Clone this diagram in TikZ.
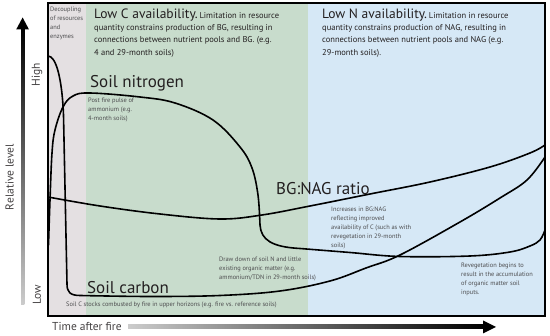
\documentclass[tikz,border=0pt]{standalone}
\usepackage{fontspec}
\setmainfont{PT Sans}
\definecolor{bggray}{HTML}{E4E0E2}
\definecolor{bggreen}{HTML}{C8DCCC}
\definecolor{bgblue}{HTML}{D6E8F6}
\definecolor{txtdark}{HTML}{231F20}
\definecolor{txtgray}{HTML}{4D4D4F}
\begin{document}
\begin{tikzpicture}[x=1pt,y=-1pt,
  big/.style={font=\fontsize{17}{17}\selectfont, text=txtdark, inner sep=0pt, anchor=base west},
  headbig/.style={font=\fontsize{13.5}{13.5}\selectfont, text=txtdark, inner sep=0pt, anchor=base west},
  headsmall/.style={font=\fontsize{8.5}{12}\selectfont, text=txtdark, inner sep=0pt, anchor=base west},
  ann/.style={font=\fontsize{6.4}{9}\selectfont, text=txtgray, inner sep=0pt, anchor=base west},
  axlab/.style={font=\fontsize{11.5}{11.5}\selectfont, text=txtdark!85, inner sep=0pt},
  curve/.style={line width=1.6pt, black, line cap=round, line join=round}]
\useasboundingbox (0,0) rectangle (550,336);
% backgrounds
\fill[bggray] (48,3) rectangle (86,316);
\fill[bggreen] (86,3) rectangle (308,316);
\fill[bgblue] (308,3) rectangle (545,316);
% decoupling + soil carbon
\draw[curve] (48,56) .. controls (56,56) and (62,78) .. (63.5,115)
  -- (67,284) .. controls (67,292) and (70,295.5) .. (80,295.5)
  plot[smooth, tension=0.6] coordinates {(80,295.5) (150,296.5) (220,295.5) (280,291) (330,281) (366,268) (400,255) (460,222) (500,198) (527,180) (545,157)};
% soil nitrogen
\draw[curve] plot[smooth, tension=0.6] coordinates {(48.5,245) (50,200) (52,153) (55,130) (63,107) (73,96) (90,93) (140,97) (175,103) (213,120) (240,147) (252,168) (258,195) (260,225)}
  .. controls (261,240) and (272,247) .. (300,248.5)
  plot[smooth, tension=0.6] coordinates {(300,248.5) (350,252.5) (400,256.5) (470,256) (510,252) (530,246) (540,240) (545,230)};
% BG:NAG
\draw[curve] plot[smooth, tension=0.6] coordinates {(48,197) (100,206) (160,214) (220,219) (262,215) (310,206) (370,194) (430,182) (490,167) (530,153) (545,145)};
% frame
\draw[line width=2.4pt, black] (48,3) rectangle (545,316);
% axes arrows
\shade[top color=black, bottom color=black!20] (21,29) rectangle (24.3,305);
\fill[black] (22.6,17.5) -- (29,29.5) -- (16.2,29.5) -- cycle;
\shade[left color=black!20, right color=black] (128,325) rectangle (484,329);
\fill[black] (496,327) -- (483,320.5) -- (483,333.5) -- cycle;
% axis labels
\node[axlab, rotate=90] (high) at (37,75) {High};
\node[axlab, rotate=90] (rel) at (9.5,177) {Relative level};
\node[axlab, rotate=90] (low) at (37,295) {Low};
\node[axlab, anchor=base west] (time) at (52,331) {Time after fire};
% header texts
\node[ann] (dec1) at (50,12) {Decoupling};
\node[ann] (dec2) at (50,21) {of resources};
\node[ann] (dec3) at (50,30) {and};
\node[ann] (dec4) at (50,39) {enzymes};
\node[headbig] (lowc) at (94,19) {Low C availability.};
\node[headsmall, anchor=base west] (lowc1) at (lowc.base east) {\,Limitation in resource};
\node[headsmall] (lowc2) at (94,30.5) {quantity constrains production of BG, resulting in};
\node[headsmall] (lowc3) at (94,43) {connections between nutrient pools and BG. (e.g.};
\node[headsmall] (lowc4) at (94,55.5) {4 and 29-month soils)};
\node[headbig] (lown) at (322,19) {Low N availability.};
\node[headsmall, anchor=base west] (lown1) at (lown.base east) {\,Limitation in resource};
\node[headsmall] (lown2) at (322,30.5) {quantity constrains production of NAG, resulting in};
\node[headsmall] (lown3) at (322,43) {connections between nutrient pools and NAG (e.g.};
\node[headsmall] (lown4) at (322,55.5) {29-month soils).};
% curve labels
\node[big] (sn) at (90,88) {Soil nitrogen};
\node[big] (sc) at (87,294) {Soil carbon};
\node[big] (bg) at (276,195) {BG:NAG ratio};
% annotations
\node[ann] (pf1) at (88,103) {Post fire pulse of};
\node[ann] (pf2) at (88,112) {ammonium (e.g.};
\node[ann] (pf3) at (88,121) {4-month soils)};
\node[ann] (in1) at (331,211.5) {Increases in BG:NAG};
\node[ann] (in2) at (331,220.5) {reflecting improved};
\node[ann] (in3) at (331,229.5) {availability of C (such as with};
\node[ann] (in4) at (331,238.5) {revegetation in 29-month};
\node[ann] (in5) at (331,247.5) {soils)};
\node[ann] (dd1) at (219,262) {Draw down of soil N and little};
\node[ann] (dd2) at (219,271) {existing organic matter (e.g.};
\node[ann] (dd3) at (219,280) {ammonium/TDN in 29-month soils)};
\node[ann] (rv1) at (461,268) {Revegetation begins to};
\node[ann] (rv2) at (461,277) {result in the accumulation};
\node[ann] (rv3) at (461,286) {of organic matter soil};
\node[ann] (rv4) at (461,295) {inputs.};
\node[ann] (scs) at (66,307) {Soil C stocks combusted by fire in upper horizons (e.g. fire vs. reference soils)};
\end{tikzpicture}
\end{document}
